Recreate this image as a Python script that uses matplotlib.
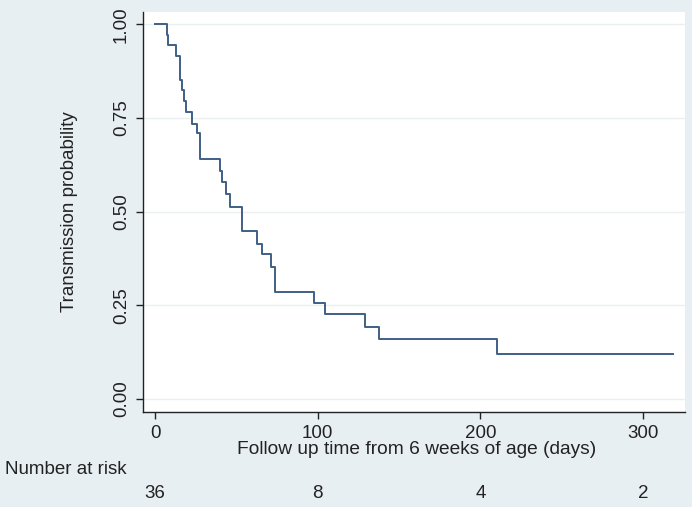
import matplotlib
matplotlib.use("Agg")
import matplotlib.pyplot as plt
import matplotlib.transforms as mtransforms

# Kaplan-Meier step curve
times = [0, 7.6, 8.2, 12.9, 15.4, 16.6, 18.0, 19.1, 23.0, 25.6, 27.7, 40.0, 41.0,
         43.5, 46.1, 53.3, 62.5, 65.9, 71.3, 73.8, 97.9, 104.5, 129.3, 137.4, 210.0, 318.6]
surv = [1.0, 0.972, 0.944, 0.915, 0.851, 0.824, 0.795, 0.767, 0.735, 0.709, 0.640, 0.608,
        0.578, 0.546, 0.512, 0.448, 0.414, 0.386, 0.351, 0.286, 0.255, 0.227, 0.193,
        0.160, 0.120, 0.120]

x_ticks = [0, 100, 200, 300]
y_ticks = [0.0, 0.25, 0.5, 0.75, 1.0]
y_tick_labels = ["0.00", "0.25", "0.50", "0.75", "1.00"]
risk_times = [0, 100, 200, 300]
risk_counts = [36, 8, 4, 2]

BG = "#E8EFF2"
LINE = "#3E5F86"
plt.rcParams["font.family"] = ["Liberation Sans Narrow", "Liberation Sans", "DejaVu Sans"]

W, H = 692, 507
fig = plt.figure(figsize=(W / 100, H / 100), dpi=100, facecolor=BG)
ax = fig.add_axes([142.5 / W, 1 - 412 / H, (685 - 142.5) / W, (412 - 12) / H])
ax.set_facecolor("white")

ax.step(times, surv, where="post", color=LINE, lw=1.4)

ax.set_xlim(-7.7, 325.7)
ax.set_ylim(-0.035, 1.033)
ax.set_xticks(x_ticks)
ax.set_yticks(y_ticks)
ax.set_yticklabels(y_tick_labels, rotation=90, va="center")
ax.grid(axis="y", color="#EAF0F2", lw=1.0)
ax.set_axisbelow(True)
for s in ("top", "right"):
    ax.spines[s].set_visible(False)
for s in ("left", "bottom"):
    ax.spines[s].set_color("#222222")
    ax.spines[s].set_linewidth(1.0)
ax.tick_params(axis="both", direction="out", length=5, width=1, color="#222222",
               labelsize=13.5, labelcolor="#222222", pad=4)

ax.set_ylabel("Transmission probability", fontsize=13.5, color="#222222", labelpad=25)
fig.text(417 / W, 1 - 449 / H, "Follow up time from 6 weeks of age (days)",
         ha="center", va="center", fontsize=13.8, color="#222222")
fig.text(5 / W, 1 - 470 / H, "Number at risk", ha="left", va="center",
         fontsize=13.5, color="#222222")

trans = mtransforms.blended_transform_factory(ax.transData, fig.transFigure)
for t, n in zip(risk_times, risk_counts):
    ax.text(t, 1 - 494 / H, str(n), transform=trans, ha="center", va="center",
            fontsize=13.5, color="#222222")

fig.savefig("out.png", dpi=100, facecolor=BG)
